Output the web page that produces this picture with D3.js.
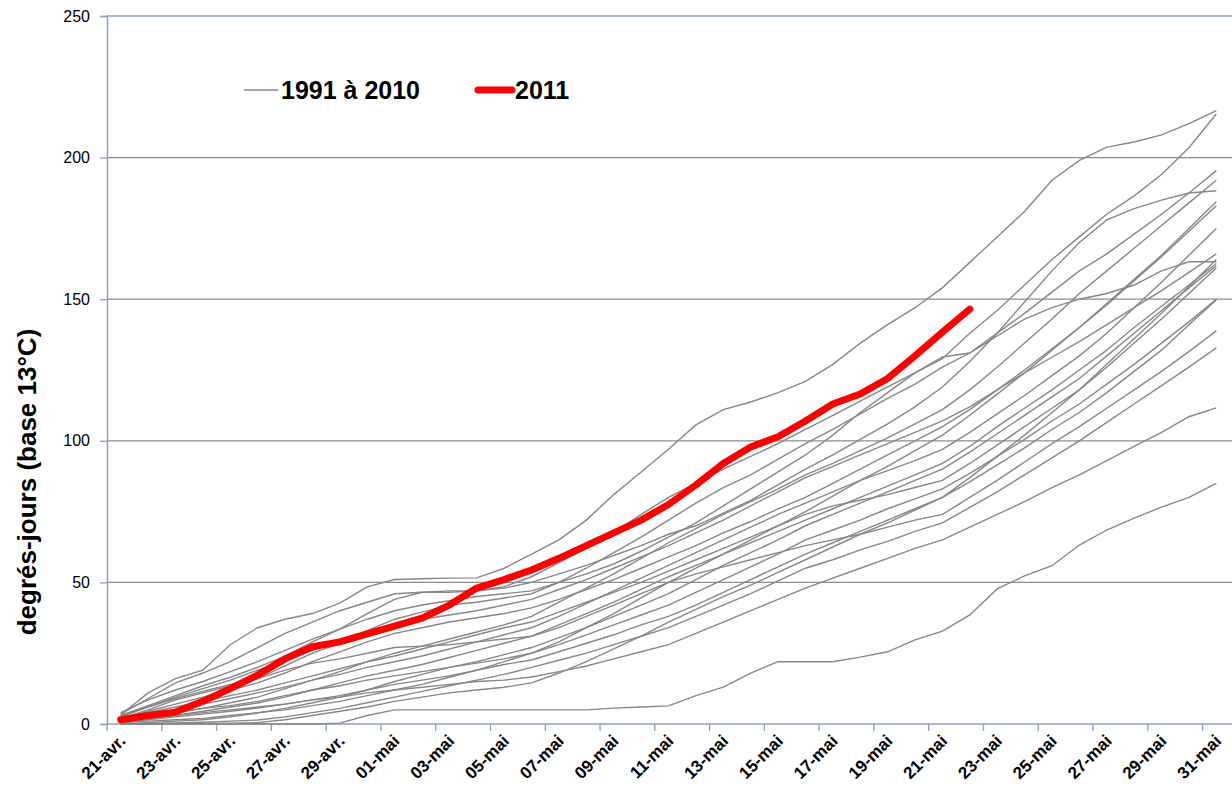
<!DOCTYPE html>
<html>
<head>
<meta charset="utf-8">
<script src="https://cdn.jsdelivr.net/npm/d3@7"></script>
<style>
	body { margin: 0; background: #fff; }
	text { font-family: "Liberation Sans", Arial, sans-serif; }
</style>
</head>
<body>
<script>
/* Data
   ---- */
var days = ["21-avr.", "22-avr.", "23-avr.", "24-avr.", "25-avr.", "26-avr.", "27-avr.", "28-avr.", "29-avr.", "30-avr.",
	"01-mai", "02-mai", "03-mai", "04-mai", "05-mai", "06-mai", "07-mai", "08-mai", "09-mai", "10-mai",
	"11-mai", "12-mai", "13-mai", "14-mai", "15-mai", "16-mai", "17-mai", "18-mai", "19-mai", "20-mai",
	"21-mai", "22-mai", "23-mai", "24-mai", "25-mai", "26-mai", "27-mai", "28-mai", "29-mai", "30-mai", "31-mai"];

var yTicks = [0, 50, 100, 150, 200, 250];

// one array per year 1991-2010 (order not known from the picture)
var y01 = [3.2, 11, 16, 19, 28, 34, 37, 39, 42.7, 48.4, 51, 51.3, 51.5, 51.6, 55, 60, 65, 72, 81, 89, 97, 105.6, 111, 113.7, 117, 121, 127, 134.5, 141, 147, 154, 163, 172, 181, 192, 199, 203.7, 205.5, 208, 212, 216.6];
var y02 = [3, 6.5, 10, 13.5, 16.5, 20, 24, 29, 33.5, 39, 44, 46.5, 47, 47, 48.5, 52, 57, 62, 67.5, 74, 80, 85, 90, 94.5, 99, 104, 109, 114, 119, 124, 129, 138, 146, 155, 164, 172, 180, 186.5, 194, 203.5, 215.4];
var y03 = [2, 5, 8.5, 11, 13.5, 16, 20.5, 25, 28.5, 33, 37, 39.5, 42, 43, 44.5, 46, 50, 55, 60.5, 66, 72, 78, 83.5, 88, 93.5, 99, 104, 109.5, 115, 120, 126, 131, 138, 145, 152.5, 160, 166, 173, 180, 187.5, 195.4];
var y04 = [1, 2.5, 4, 5.5, 7.5, 9.5, 12.5, 15.5, 18.5, 22, 25, 27.5, 30, 32.5, 35, 38, 43, 48, 53, 58.5, 64, 69, 74, 78.5, 83, 88, 92, 96.5, 101, 106, 111, 118, 126, 134.5, 143, 152, 160, 168, 176, 184, 192];
var y05 = [3.5, 9, 14.5, 18, 22, 27, 32, 36, 40, 43, 46, 46.5, 46.5, 47, 48, 50, 53, 56, 59.5, 63, 67, 70, 74.5, 79, 84.5, 90, 95, 100.5, 106, 112, 119, 128, 138, 149, 160, 170, 178, 182, 185, 187.5, 188.3];
var y06 = [0.5, 1, 1.5, 2, 3, 4, 5, 6.5, 8, 10, 12, 14, 16.5, 19, 22, 25, 29, 34, 39, 44.5, 50, 55, 60, 65, 70, 75, 80.5, 86, 91, 96.5, 102, 109, 116.5, 124, 132, 140, 148.5, 157, 165.5, 175, 184.4];
var y07 = [2, 4.5, 7, 9.5, 12, 14.5, 18, 22, 25.5, 29, 32, 34, 36, 37.5, 39, 41, 44, 47.5, 51, 55, 59, 63, 67.5, 71.5, 76, 80, 85, 90, 95, 100, 105, 111, 118, 125, 132.5, 140, 148, 156.5, 165, 174, 183];
var y08 = [1.5, 3, 5, 7, 9, 11, 13, 15.5, 17.5, 20, 22, 24, 26.5, 29, 31.5, 34, 38, 42.5, 47, 51.5, 56, 60.5, 65, 69.5, 74, 78, 82, 86, 89.5, 93, 97, 103, 109.5, 116, 123, 130, 138, 147, 156, 165.5, 175];
var y09 = [2.5, 6, 9.5, 12.5, 15.5, 19, 22.5, 26, 29, 32, 35, 37, 38.5, 40, 42, 44, 47.5, 51, 55, 59, 63, 67.5, 72, 77, 82, 87, 91, 95, 99, 103, 107, 112, 118, 124, 129.5, 135, 141, 147, 153, 159.5, 166];
var y10 = [4, 8.5, 12, 15, 18.5, 22, 26, 30, 33.5, 37, 40, 42, 43.5, 45, 46, 47, 50, 53, 56.5, 61, 66, 71, 77, 83, 89, 95, 102, 110, 117, 124, 129.6, 131, 137, 143, 147, 150, 152, 155, 160, 163.2, 163.2];
var y11 = [1, 2, 3, 4.5, 6, 7.4, 9.5, 12, 14.5, 17, 19, 21, 23.5, 26, 28.5, 31, 35, 39, 43, 47.5, 52, 56, 60, 64, 68, 72, 76, 80, 84, 88, 92, 98, 105, 111.5, 118, 125, 132, 140, 147.5, 155, 162.6];
var y12 = [0, 0.5, 1, 1.5, 2.5, 3.9, 5.5, 7.5, 9.5, 12, 15, 17.5, 20, 22, 24.5, 27, 30.5, 34, 38, 42, 46, 51, 56, 60.5, 65, 70, 74, 78, 82, 86, 90, 96, 102.5, 109, 115.5, 122, 130, 138, 146, 154, 161.8];
var y13 = [2, 4, 6, 8, 10, 12, 14.5, 17, 19.5, 22, 24, 26.5, 29, 31.5, 34, 36, 39.5, 43, 46.5, 50, 54, 58, 62, 66, 70, 74, 77, 79, 81, 83.5, 86, 92, 98.5, 105, 111.5, 118, 126, 134.5, 143, 152, 161];
var y14 = [1, 2.5, 4, 5.5, 6.5, 8, 10, 12, 13.5, 15.5, 17, 18.5, 20, 21.5, 23, 25, 28, 31.5, 35, 38.5, 42, 46.5, 51, 55.5, 60, 65, 68.5, 72, 76, 79.5, 83, 88.5, 94.5, 100.5, 107, 113, 120, 127, 134.5, 142, 150];
var y15 = [0.5, 1.5, 2.5, 3.5, 4.5, 5.6, 7, 8.5, 10, 12, 14, 15.5, 17, 19, 21, 22.6, 25.5, 28.5, 31.5, 35, 38, 42, 46.5, 51, 55.5, 60, 64, 68, 72, 76, 80, 85.5, 91.5, 97.5, 104, 110, 117, 124.5, 132, 141, 149.7];
var y16 = [3, 6, 9, 11.5, 14, 16, 19, 21.5, 23, 25, 27, 27.5, 28, 29, 30, 31, 34, 38, 42, 46, 50, 53, 55.5, 58, 60.5, 63, 65, 67, 69.5, 72, 74, 80, 86, 92.5, 99, 105, 111.5, 118, 124.5, 131.5, 138.8];
var y17 = [0, 0.2, 0.4, 0.6, 1, 1.4, 2.5, 4, 5.5, 7.5, 9.5, 11.5, 13.5, 15.5, 17.5, 20, 22.5, 25, 28, 31, 34, 38, 42, 46, 50.5, 55, 58, 61.5, 64.5, 68, 71, 76.5, 82, 88, 94, 100, 106.5, 113, 119.5, 126, 132.8];
var y18 = [1, 2, 3, 4, 5, 6, 7, 8.5, 9.5, 11, 12, 13, 14, 15, 15.5, 16.6, 18.5, 20.5, 23, 25.5, 28, 32, 36, 40, 44, 48, 51.5, 55, 58.5, 62, 65, 69.5, 74, 78.5, 83.5, 88, 93, 98, 103, 108.5, 111.6];
var y19 = [0, 0, 0.1, 0.2, 0.3, 0.5, 1.5, 3, 4.5, 6, 8, 9.5, 11, 12, 13, 14.5, 18, 22, 26.5, 31, 36, 40.5, 45, 49, 53.5, 58, 62.5, 67, 71, 75.5, 80, 87, 94.5, 102, 110, 118, 127, 136, 145, 154.5, 164];
var y20 = [0, 0, 0, 0, 0, 0, 0, 0, 0.3, 3, 5, 5, 5, 5, 5, 5, 5, 5, 5.6, 6, 6.4, 10, 13, 18, 22, 22, 22, 23.6, 25.5, 29.7, 32.8, 38.5, 47.7, 52.3, 55.9, 63.2, 68.5, 72.7, 76.6, 80, 85];

// 2011, until 22-mai
var y2011 = [1.5, 3, 4.2, 8, 12.5, 17.3, 23, 27.3, 29, 31.8, 34.6, 37.4, 42, 48, 51, 54.4, 58.5, 63, 67.5, 72, 77.5, 84.4, 92, 97.8, 101.4, 107, 113, 116.5, 122, 130, 138.4, 146.5];

var pastYears = [y01, y02, y03, y04, y05, y06, y07, y08, y09, y10, y11, y12, y13, y14, y15, y16, y17, y18, y19, y20];

/* SVG Setup
   --------- */
var width = 1232;
var height = 800;
var plot = { left: 107, right: 1230, top: 16, bottom: 724 };
var axisColor = "#8da0bf";
var gridColor = "#8c8c8c";

var svg = d3.select("body")
	.append("svg")
	.attr("width", width)
	.attr("height", height);

var xScale = d3.scaleBand().domain(days).range([plot.left, plot.right]).padding(0);
var yScale = d3.scaleLinear().domain([0, 250]).range([plot.bottom, plot.top]);

function xPos(i) {
	return xScale(days[i]) + xScale.bandwidth() / 2;
}

// gridlines
svg.append("g")
	.selectAll("line")
	.data(yTicks.filter(function (t) { return t > 0 && t < 250; }))
	.enter()
	.append("line")
	.attr("x1", plot.left)
	.attr("x2", plot.right + 2)
	.attr("y1", function (d) { return yScale(d); })
	.attr("y2", function (d) { return yScale(d); })
	.attr("stroke", gridColor)
	.attr("stroke-width", 1.3);

// top border
svg.append("line")
	.attr("x1", plot.left).attr("x2", plot.right + 2)
	.attr("y1", yScale(250)).attr("y2", yScale(250))
	.attr("stroke", axisColor).attr("stroke-width", 1.5);

// Y Axis
var gY = svg.append("g")
	.attr("transform", "translate(" + plot.left + ",0)")
	.call(d3.axisLeft(yScale).tickValues(yTicks).tickSize(7).tickPadding(10));
gY.select(".domain").attr("stroke", axisColor).attr("stroke-width", 1.5);
gY.selectAll(".tick line").attr("stroke", axisColor).attr("stroke-width", 1.3);
gY.selectAll(".tick text")
	.attr("font-family", "Liberation Sans, Arial, sans-serif")
	.attr("font-size", "16px")
	.attr("fill", "#000");

// Y axis label
svg.append("text")
	.attr("text-anchor", "middle")
	.attr("transform", "translate(36,482) rotate(-90)")
	.text("degrés-jours (base 13°C)")
	.attr("font-size", "26px")
	.attr("font-weight", "bold")
	.attr("fill", "#000");

// X Axis (ticks every two days, at category boundaries)
var gX = svg.append("g");
gX.append("line")
	.attr("x1", plot.left).attr("x2", plot.right + 2)
	.attr("y1", plot.bottom).attr("y2", plot.bottom)
	.attr("stroke", axisColor).attr("stroke-width", 1.5);

var labelled = days.filter(function (d, i) { return i % 2 === 0; });

gX.selectAll(".xtick")
	.data(labelled)
	.enter()
	.append("line")
	.attr("class", "xtick")
	.attr("x1", function (d) { return xScale(d); })
	.attr("x2", function (d) { return xScale(d); })
	.attr("y1", plot.bottom)
	.attr("y2", plot.bottom + 7)
	.attr("stroke", axisColor)
	.attr("stroke-width", 1.3);

gX.selectAll(".xlabel")
	.data(labelled)
	.enter()
	.append("text")
	.attr("class", "xlabel")
	.attr("text-anchor", "end")
	.attr("transform", function (d) {
		return "translate(" + (xScale(d) + xScale.bandwidth() / 2 + 6) + "," + (plot.bottom + 18) + ") rotate(-45)";
	})
	.text(function (d) { return d; })
	.attr("font-size", "17px")
	.attr("font-weight", "bold")
	.attr("fill", "#000");

// Lines
var line = d3.line()
	.x(function (d, i) { return xPos(i); })
	.y(function (d) { return yScale(d); });

svg.append("g")
	.selectAll("path")
	.data(pastYears)
	.enter()
	.append("path")
	.attr("d", line)
	.attr("fill", "none")
	.attr("stroke", "#878787")
	.attr("stroke-width", 1.4);

svg.append("path")
	.datum(y2011)
	.attr("d", line)
	.attr("fill", "none")
	.attr("stroke", "#ff0000")
	.attr("stroke-width", 7)
	.attr("stroke-linecap", "round")
	.attr("stroke-linejoin", "round");

/* Legend
   ------ */
var legend = svg.append("g");

legend.append("line")
	.attr("x1", 244).attr("x2", 278)
	.attr("y1", 90).attr("y2", 90)
	.attr("stroke", "#878787").attr("stroke-width", 1.4);

legend.append("text")
	.attr("x", 281).attr("y", 99)
	.text("1991 à 2010")
	.attr("font-size", "25px")
	.attr("font-weight", "bold")
	.attr("fill", "#000");

legend.append("line")
	.attr("x1", 478).attr("x2", 512)
	.attr("y1", 90).attr("y2", 90)
	.attr("stroke", "#ff0000").attr("stroke-width", 7)
	.attr("stroke-linecap", "round");

legend.append("text")
	.attr("x", 515).attr("y", 99)
	.text("2011")
	.attr("font-size", "25px")
	.attr("font-weight", "bold")
	.attr("fill", "#000");
</script>
</body>
</html>
